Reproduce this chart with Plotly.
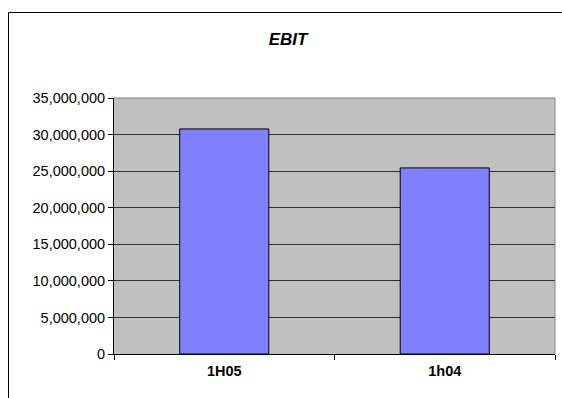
import plotly.graph_objects as go

# EBIT by half-year period
periods = ["1H05", "1h04"]
ebit = [30770000, 25440000]
y_ticks = [0, 5000000, 10000000, 15000000, 20000000, 25000000, 30000000, 35000000]

W, H = 562, 398
L, R, T, B = 114, 7, 98, 44
pw, ph = W - L - R, H - T - B

fig = go.Figure(
    go.Bar(
        x=periods,
        y=ebit,
        marker=dict(color="#8080FF", line=dict(color="#000000", width=1)),
        hoverinfo="x+y",
    )
)

font = "Liberation Sans, Arial, sans-serif"

# outer chart border (left and top edges; the rest runs off the page)
bx = (8.5 - L) / pw
by = (H - B - 12.5) / ph

fig.update_layout(
    width=W,
    height=H,
    margin=dict(l=L, r=R, t=T, b=B, pad=0),
    paper_bgcolor="#FFFFFF",
    plot_bgcolor="#C0C0C0",
    bargap=0.596,
    showlegend=False,
    title=dict(
        text="<b><i>EBIT</i></b>",
        font=dict(family=font, size=17, color="#000000"),
        x=288 / W,
        xref="container",
        xanchor="center",
        y=1 - 39 / H,
        yref="container",
        yanchor="middle",
    ),
    xaxis=dict(
        type="category",
        showline=True,
        linecolor="#000000",
        linewidth=1,
        ticks="outside",
        tickson="boundaries",
        ticklen=5,
        tickcolor="#000000",
        showgrid=False,
        tickfont=dict(family=font, size=14.5, color="#000000", weight="bold"),
        ticklabelstandoff=4,
    ),
    yaxis=dict(
        range=[0, 35000000],
        tickvals=y_ticks,
        tickformat=",d",
        showline=True,
        linecolor="#000000",
        linewidth=1,
        ticks="outside",
        ticklen=5,
        tickcolor="#000000",
        showgrid=True,
        gridcolor="#303030",
        gridwidth=1,
        zeroline=False,
        tickfont=dict(family=font, size=14.5, color="#000000"),
    ),
    shapes=[
        # grey frame on the top and right of the plot area
        dict(type="line", xref="paper", yref="paper", x0=0, x1=1, y0=1, y1=1,
             line=dict(color="#808080", width=1), layer="above"),
        dict(type="line", xref="paper", yref="paper", x0=1, x1=1, y0=0, y1=1,
             line=dict(color="#808080", width=1), layer="above"),
        dict(type="line", xref="paper", yref="paper", x0=bx, x1=bx, y0=by, y1=-B / ph,
             line=dict(color="#000000", width=1), layer="above"),
        dict(type="line", xref="paper", yref="paper", x0=bx, x1=1 + R / pw, y0=by, y1=by,
             line=dict(color="#000000", width=1), layer="above"),
    ],
)

fig.write_html("out.html", config={"displayModeBar": False})
